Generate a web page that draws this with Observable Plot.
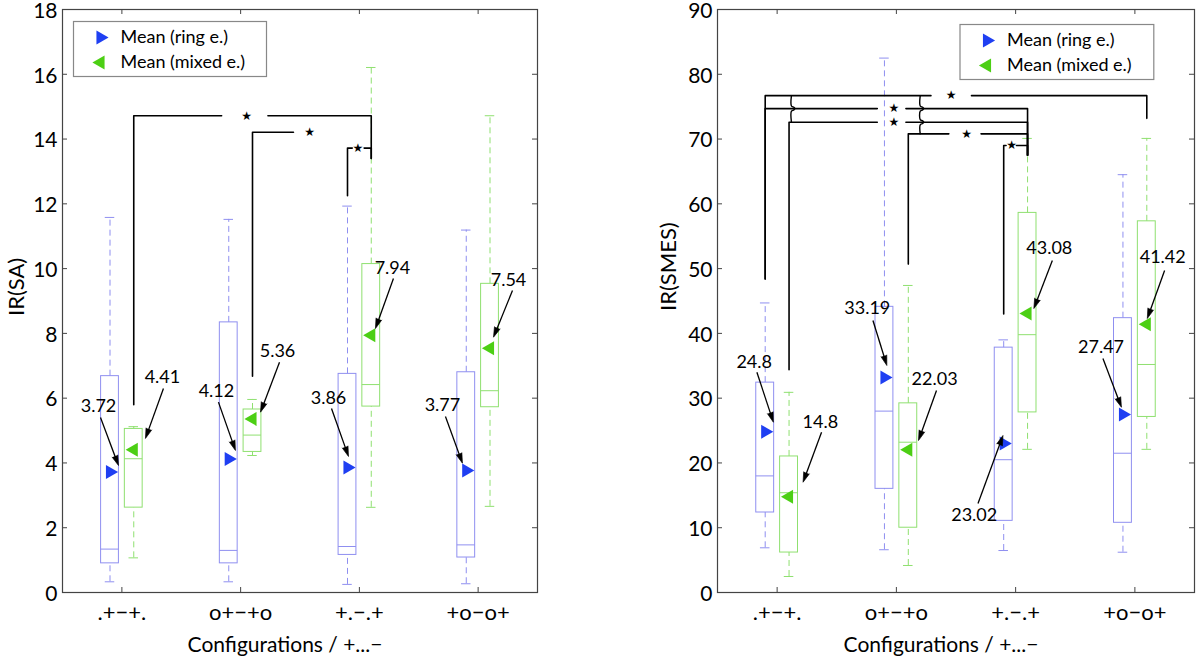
<!DOCTYPE html>
<html><head><meta charset="utf-8">
<script src="https://cdn.jsdelivr.net/npm/d3@7"></script>
<script src="https://cdn.jsdelivr.net/npm/@observablehq/plot@0.6"></script>
<style>
html,body{margin:0;padding:0;background:#fff;}
#wrap{position:relative;width:1200px;height:660px;overflow:hidden;}
#left{position:absolute;left:0;top:0;}
#right{position:absolute;left:655px;top:0;}
</style></head><body>
<div id="wrap"><div id="left"></div><div id="right"></div></div>
<script>
// ---------- data ----------
const categories = [".+−+.", "o+−+o", "+.−.+", "+o−o+"];
const seriesNames = ["Mean (ring e.)", "Mean (mixed e.)"];

// IR(SA) – ring electrodes
const saRingLow    = [0.33, 0.33, 0.25, 0.27];
const saRingQ1     = [0.90, 0.90, 1.16, 1.08];
const saRingMedian = [1.34, 1.30, 1.42, 1.47];
const saRingQ3     = [6.68, 8.34, 6.75, 6.80];
const saRingHigh   = [11.58, 11.52, 11.93, 11.19];
const saRingMean   = [3.72, 4.12, 3.86, 3.77];
// IR(SA) – mixed electrodes
const saMixLow    = [1.07, 4.23, 2.63, 2.66];
const saMixQ1     = [2.62, 4.34, 5.74, 5.72];
const saMixMedian = [4.13, 4.86, 6.42, 6.23];
const saMixQ3     = [5.05, 5.65, 10.14, 9.53];
const saMixHigh   = [5.12, 5.96, 16.21, 14.72];
const saMixMean   = [4.41, 5.36, 7.94, 7.54];

// IR(SMES) – ring electrodes
const smRingLow    = [6.9, 6.6, 6.48, 6.22];
const smRingQ1     = [12.35, 16.0, 11.06, 10.76];
const smRingMedian = [18.0, 28.0, 20.5, 21.5];
const smRingQ3     = [32.4, 44.1, 37.8, 42.35];
const smRingHigh   = [44.7, 82.5, 39.0, 64.5];
const smRingMean   = [24.8, 33.19, 23.02, 27.47];
// IR(SMES) – mixed electrodes
const smMixLow    = [2.47, 4.17, 22.1, 22.1];
const smMixQ1     = [6.17, 10.0, 27.8, 27.1];
const smMixMedian = [15.4, 23.2, 39.8, 35.2];
const smMixQ3     = [21.0, 29.2, 58.6, 57.3];
const smMixHigh   = [30.9, 47.4, 70.1, 70.1];
const smMixMean   = [14.8, 22.03, 43.08, 41.42];

const saTicks = [0, 2, 4, 6, 8, 10, 12, 14, 16, 18];
const smTicks = [0, 10, 20, 30, 40, 50, 60, 70, 80, 90];

// significance brackets: from/to = [category, series]; levels are values on the y scale,
// star and gap are positions on the category scale
const saBrackets = [
  {from: [1, "mixed"], to: [3, "mixed"], y0: 5.8,  top: 14.72, y1: 13.4, star: 2.05,  gap: [1.84, 2.23]},
  {from: [2, "mixed"], to: null,         y0: 6.68, top: 14.21, y1: null, star: 2.58,  gap: [2.445, null]},
  {from: [3, "ring"],  to: [3, "mixed"], y0: 12.25, top: 13.72, y1: 13.4, star: 2.987, gap: [2.94, 3.04]}
];
const smBrackets = [
  {from: [1, "ring"],  to: [4, "mixed"], y0: 48.4, top: 76.7, y1: 73.2, star: 2.46, gap: [2.29, 2.63]},
  {from: [1, "ring"],  to: [3, "mixed"], y0: 48.4, top: 74.7, y1: 67.5, star: 1.98, gap: [1.84, 2.08]},
  {from: [1, "mixed"], to: [3, "mixed"], y0: 34.4, top: 72.6, y1: 67.5, star: 1.98, gap: [1.84, 2.08]},
  {from: [2, "mixed"], to: [3, "mixed"], y0: 50.7, top: 70.8, y1: 67.5, star: 2.59, gap: [2.44, 2.71]},
  {from: [3, "ring"],  to: [3, "mixed"], y0: 43.0, top: 69.0, y1: 67.5, star: 2.966, gap: [2.92, 3.007]}
];
// line-crossing hops: category position, from level, to level, crossed levels
const smHops = [
  {x: 1.12, from: 76.7, to: 72.6, cross: [74.7]},
  {x: 2.2,  from: 76.7, to: 70.8, cross: [74.7, 72.6]}
];

// annotation layout (pixel offsets from each mean marker): label, arrow start, arrow end
const saRingNotes = [[-11.5,-65.5,-9.5,-54.5,8.5,-6.5],[-12.3,-67.6,-10.3,-56.9,6.7,-8.6],[-19,-69,-16,-59,1,-11],[-23.8,-64.9,-20.8,-53.9,-3.8,-7.2]];
const saMixNotes  = [[28.7,-72.5,29.7,-61.2,11.7,-11.2],[25,-67.4,27,-56.7,8,-6.7],[21.2,-66.8,22.2,-56.8,4.2,-6.8],[18.5,-67.8,22.5,-57.8,3.5,-11.1]];
const smRingNotes = [[-11,-69.3,-8.3,-59.6,8.2,-9.6],[-17.2,-69,-11.5,-57,2.4,-12],[-29.5,72.1,-25.7,60.1,-0.7,-7.9],[-21.9,-67,-20,-56,-1.5,-7.3]];
const smMixNotes  = [[31.3,-74.4,32.5,-64.4,14,-14.4],[26.3,-70.3,28.2,-59.3,10.2,-9.3],[21.7,-64.9,24.8,-52.9,6.3,-4.9],[15.9,-66.7,17.8,-53.7,0.5,-5.7]];

// ---------- style ----------
const OFF = 0.1, BOXW = 0.15, CAPW = 0.08;
const series = [
  {key: "ring",  off: -OFF, box: "#8f8ff0", mean: "#1f3ff2", rotate: 90},
  {key: "mixed", off:  OFF, box: "#8fe070", mean: "#4ccf14", rotate: -90}
];
const xOf = (cat, key) => cat + (key === "ring" ? -OFF : OFF);

function rowsFor(stats) {
  const out = [];
  for (const s of series) {
    const st = stats[s.key];
    categories.forEach((c, i) => out.push({
      cat: i + 1, key: s.key, x: i + 1 + s.off,
      lo: st.lo[i], q1: st.q1[i], med: st.med[i], q3: st.q3[i], hi: st.hi[i], mean: st.mean[i],
      note: st.notes[i]
    }));
  }
  return out;
}

function makePanel(o) {
  const innerW = o.width - o.ml - o.mr, innerH = o.height - o.mt - o.mb;
  const kx = innerW / 4, ky = innerH / o.ymax;
  const rows = rowsFor(o.stats);
  const px = (d, dx) => d.x + dx / kx;
  const py = (d, dy) => d.mean - dy / ky;

  const notes = rows.map(d => {
    const [lx, ly, sx, sy, ex, ey] = d.note;
    const len = Math.hypot(ex - sx, ey - sy);
    const ux = (ex - sx) / len, uy = (ey - sy) / len;
    return {
      label: String(d.mean),
      lx: px(d, lx), ly: py(d, ly),
      sx: px(d, sx), sy: py(d, sy),
      bx: px(d, ex - ux * 7), by: py(d, ey - uy * 7),
      ex: px(d, ex), ey: py(d, ey),
      angle: Math.atan2(ex - sx, -(ey - sy)) * 180 / Math.PI
    };
  });

  const segs = [], stars = [];
  let id = 0;
  for (const b of o.brackets) {
    const xa = xOf(...b.from);
    id++;
    segs.push({id, x: xa, y: b.y0}, {id, x: xa, y: b.top}, {id, x: b.gap[0], y: b.top});
    if (b.to) {
      const xb = xOf(...b.to);
      id++;
      segs.push({id, x: b.gap[1], y: b.top}, {id, x: xb, y: b.top}, {id, x: xb, y: b.y1});
    }
    stars.push({x: b.star, y: b.top});
  }
  const hopPts = [];
  for (const h of (o.hops || [])) {
    id++;
    const hy = 2.6 / ky, hx = 3.5 / kx;
    hopPts.push({id, x: h.x, y: h.from});
    for (const c of h.cross) {
      hopPts.push({id, x: h.x, y: c + hy}, {id, x: h.x + hx * 0.7, y: c + hy * 0.5}, {id, x: h.x + hx, y: c}, {id, x: h.x + hx * 0.7, y: c - hy * 0.5}, {id, x: h.x, y: c - hy});
    }
    hopPts.push({id, x: h.x, y: h.to});
  }

  const marks = [
    Plot.frame({stroke: "#444", strokeWidth: 1.2}),
    Plot.ruleX([1, 2, 3, 4], {insetTop: innerH - 5, stroke: "#444"}),
    Plot.ruleX([1, 2, 3, 4], {insetBottom: innerH - 5, stroke: "#444"}),
    Plot.ruleY(o.yticks, {insetRight: innerW - 5, stroke: "#444"}),
    Plot.ruleY(o.yticks, {insetLeft: innerW - 5, stroke: "#444"}),
    Plot.axisX({ticks: [1, 2, 3, 4], tickFormat: i => categories[i - 1], tickSize: 0, tickPadding: 12, fontSize: 22, label: null}),
    Plot.axisY({ticks: o.yticks, tickSize: 0, tickPadding: 5, fontSize: 21, dy: 1.5, label: null}),
    Plot.text([o.xlabel], {frameAnchor: "bottom", lineAnchor: "middle", dy: 53, dx: -15, fontSize: 21, text: d => d}),
    Plot.text([o.ylabel], {frameAnchor: "left", lineAnchor: "middle", rotate: -90, dx: o.ylabelDx, dy: o.ylabelDy, fontSize: 22, text: d => d})
  ];
  for (const s of series) {
    const r = rows.filter(d => d.key === s.key);
    marks.push(
      Plot.ruleX(r, {x: "x", y1: "q3", y2: "hi", stroke: s.box, strokeDasharray: "6,4"}),
      Plot.ruleX(r, {x: "x", y1: "lo", y2: "q1", stroke: s.box, strokeDasharray: "6,4"}),
      Plot.ruleY(r, {y: "hi", x1: d => d.x - CAPW / 2, x2: d => d.x + CAPW / 2, stroke: s.box}),
      Plot.ruleY(r, {y: "lo", x1: d => d.x - CAPW / 2, x2: d => d.x + CAPW / 2, stroke: s.box}),
      Plot.rect(r, {x1: d => d.x - BOXW / 2, x2: d => d.x + BOXW / 2, y1: "q1", y2: "q3", stroke: s.box, fill: "none"}),
      Plot.ruleY(r, {y: "med", x1: d => d.x - BOXW / 2, x2: d => d.x + BOXW / 2, stroke: s.box})
    );
  }
  for (const s of series) {
    const r = rows.filter(d => d.key === s.key);
    marks.push(Plot.dot(r, {x: "x", y: "mean", symbol: "triangle", r: 5.2, rotate: s.rotate, fill: s.mean, stroke: null}));
  }
  marks.push(
    Plot.line(segs, {x: "x", y: "y", z: "id", stroke: "black", strokeWidth: 1.6}),
    Plot.line(hopPts, {x: "x", y: "y", z: "id", stroke: "black", strokeWidth: 1.4, curve: "catmull-rom"}),
    Plot.text(stars, {x: "x", y: "y", text: () => "★", fontSize: 12, fontFamily: "DejaVu Sans", dy: 0}),
    Plot.link(notes, {x1: "sx", y1: "sy", x2: "bx", y2: "by", stroke: "black", strokeWidth: 1.3}),
    Plot.vector(notes, {x: "ex", y: "ey", rotate: "angle", length: 10, shape: "spike", r: 3, anchor: "end", fill: "black", stroke: "black", strokeWidth: 0.6}),
    Plot.text(notes, {x: "lx", y: "ly", text: "label", fontSize: 18}),
    // legend
    Plot.frame({insetLeft: o.leg.l, insetTop: o.leg.t, insetRight: o.leg.r, insetBottom: innerH - o.leg.t - 55, stroke: "#888", strokeWidth: 1.2, fill: "white"}),
    Plot.dot([0], {frameAnchor: "top-left", dx: o.leg.l + 27, dy: o.leg.t + 16, symbol: "triangle", r: 5.2, rotate: 90, fill: series[0].mean, stroke: null}),
    Plot.dot([0], {frameAnchor: "top-left", dx: o.leg.l + 27, dy: o.leg.t + 41, symbol: "triangle", r: 5.2, rotate: -90, fill: series[1].mean, stroke: null}),
    Plot.text([seriesNames[0]], {frameAnchor: "top-left", lineAnchor: "middle", dx: o.leg.l + 47, dy: o.leg.t + 16, textAnchor: "start", fontSize: 18, text: d => d}),
    Plot.text([seriesNames[1]], {frameAnchor: "top-left", lineAnchor: "middle", dx: o.leg.l + 47, dy: o.leg.t + 41, textAnchor: "start", fontSize: 18, text: d => d})
  );

  return Plot.plot({
    width: o.width, height: o.height,
    marginLeft: o.ml, marginRight: o.mr, marginTop: o.mt, marginBottom: o.mb,
    style: {fontFamily: "Lato, 'Open Sans', sans-serif", color: "black", background: "white", overflow: "visible"},
    x: {domain: [0.5, 4.5]},
    y: {domain: [0, o.ymax]},
    marks
  });
}

document.getElementById("left").append(makePanel({
  width: 600, height: 660, ml: 62, mr: 63, mt: 9, mb: 68, ymax: 18, yticks: saTicks,
  xlabel: "Configurations / +...−", ylabel: "IR(SA)", ylabelDx: -46, ylabelDy: 15,
  stats: {
    ring:  {lo: saRingLow, q1: saRingQ1, med: saRingMedian, q3: saRingQ3, hi: saRingHigh, mean: saRingMean, notes: saRingNotes},
    mixed: {lo: saMixLow, q1: saMixQ1, med: saMixMedian, q3: saMixQ3, hi: saMixHigh, mean: saMixMean, notes: saMixNotes}
  },
  brackets: saBrackets, hops: [],
  leg: {l: 11, t: 12, r: 271}
}));
document.getElementById("right").append(makePanel({
  width: 545, height: 660, ml: 62, mr: 6, mt: 9, mb: 68, ymax: 90, yticks: smTicks,
  xlabel: "Configurations / +...−", ylabel: "IR(SMES)", ylabelDx: -49, ylabelDy: 10,
  stats: {
    ring:  {lo: smRingLow, q1: smRingQ1, med: smRingMedian, q3: smRingQ3, hi: smRingHigh, mean: smRingMean, notes: smRingNotes},
    mixed: {lo: smMixLow, q1: smMixQ1, med: smMixMedian, q3: smMixQ3, hi: smMixHigh, mean: smMixMean, notes: smMixNotes}
  },
  brackets: smBrackets, hops: smHops,
  leg: {l: 242.5, t: 15, r: 40.7}
}));
</script>
</body></html>
